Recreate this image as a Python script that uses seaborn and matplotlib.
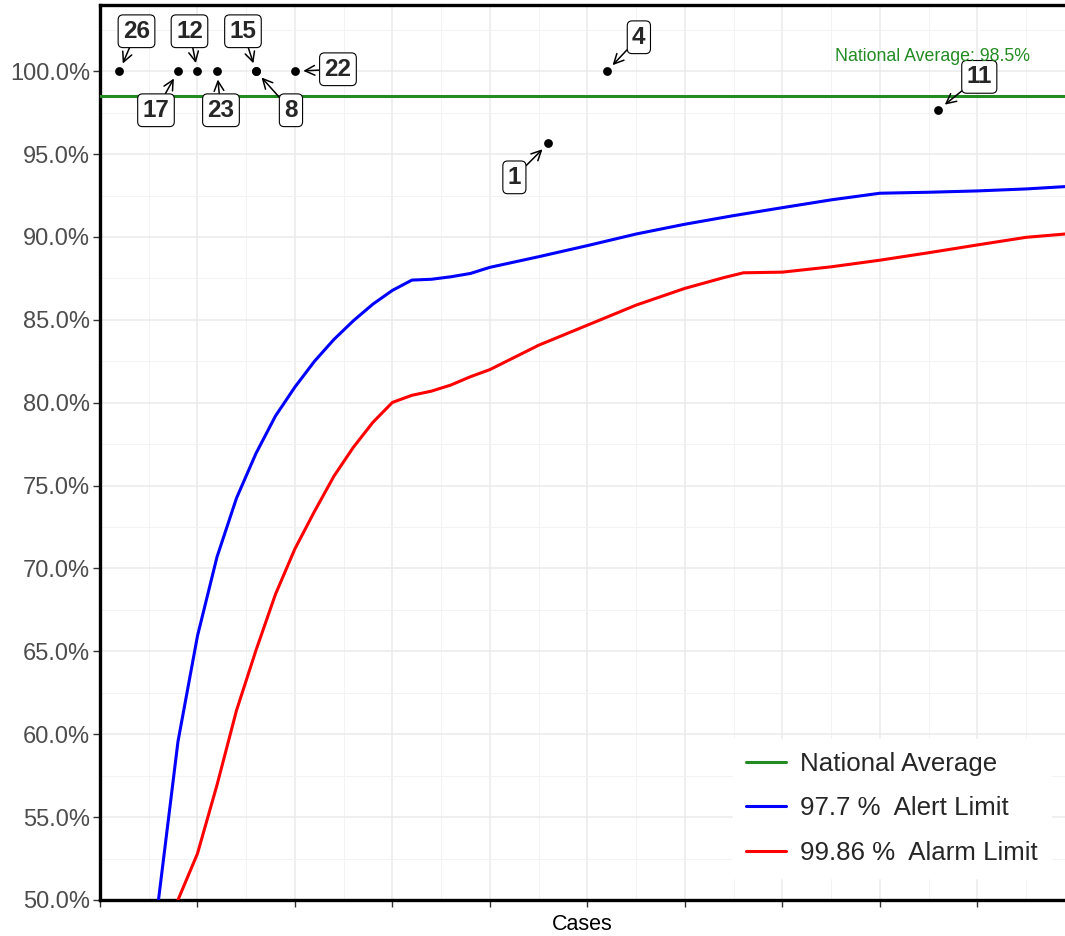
import numpy as np
import pandas as pd
import seaborn as sns
import matplotlib.pyplot as plt
from matplotlib.ticker import MultipleLocator, PercentFormatter

# hospital points
hosp_labels = ["26", "17", "12", "23", "15", "8", "22", "1", "4", "11"]
hosp_cases = [2, 8, 10, 12, 16, 16, 20, 46, 52, 86]
hosp_pct = [100.0, 100.0, 100.0, 100.0, 100.0, 100.0, 100.0, 95.65, 100.0, 97.67]

national_avg = 98.5

# funnel limits
alert_cases = [6, 8, 10, 12, 14, 16, 18, 20, 22, 24, 26, 28, 30, 32, 34, 36, 38,
               40, 45, 50, 55, 60, 65, 70, 75, 80, 85, 90, 95, 99]
alert_pct = [50.0, 59.56, 65.93, 70.69, 74.24, 76.94, 79.2, 80.95, 82.5, 83.82,
             84.95, 85.95, 86.78, 87.4, 87.45, 87.6, 87.8, 88.17, 88.81, 89.48,
             90.18, 90.77, 91.29, 91.77, 92.24, 92.64, 92.7, 92.78, 92.9, 93.04]

alarm_cases = [8, 10, 12, 14, 16, 18, 20, 22, 24, 26, 28, 30, 32, 34, 36, 38,
               40, 45, 50, 55, 60, 64, 66, 70, 75, 80, 85, 90, 95, 99]
alarm_pct = [50.0, 52.8, 56.93, 61.43, 65.06, 68.44, 71.19, 73.44, 75.57, 77.32,
             78.82, 80.02, 80.45, 80.7, 81.07, 81.57, 82.0, 83.47, 84.68, 85.89,
             86.9, 87.55, 87.84, 87.88, 88.2, 88.6, 89.05, 89.52, 89.98, 90.18]

# label offsets in pixels (text box relative to point)
label_offsets = [(17, 40), (-22, -39), (-8, 40), (4, -39), (-13, 40), (35, -39),
                 (43, 2), (-34, -34), (32, 34), (41, 33)]

sns.set_theme(style="whitegrid")
plt.rcParams['font.family'] = ['Liberation Sans', 'DejaVu Sans']

fig = plt.figure(figsize=(10.65, 9.36), dpi=100)
ax = fig.add_axes([0.0939, 0.0385, 0.9061, 0.9562])

ax.axhline(national_avg, color="#228B22", lw=2.2, label="National Average", zorder=3)
sns.lineplot(x=alert_cases, y=alert_pct, color="blue", lw=2.2, ax=ax,
             label="97.7 %  Alert Limit", zorder=3)
sns.lineplot(x=alarm_cases, y=alarm_pct, color="red", lw=2.2, ax=ax,
             label="99.86 %  Alarm Limit", zorder=3)
sns.scatterplot(x=hosp_cases, y=hosp_pct, color="black", s=40, linewidth=0, ax=ax, zorder=5)

for lab, x, y, off in zip(hosp_labels, hosp_cases, hosp_pct, label_offsets):
    ax.annotate(lab, xy=(x, y), xytext=off, textcoords="offset pixels",
                ha="center", va="center", fontsize=17.5, fontweight="bold",
                bbox=dict(boxstyle="round,pad=0.2,rounding_size=0.2", fc="white", ec="black", lw=0.8),
                arrowprops=dict(arrowstyle="->", color="black", lw=1.1, shrinkA=0, shrinkB=6),
                zorder=6)

ax.text(85.4, 100.9, f"National Average: {national_avg}%", color="#228B22",
        fontsize=12.8, ha="center", va="center", zorder=7)

ax.set_xlim(0, 99)
ax.set_ylim(50, 104)
ax.xaxis.set_major_locator(MultipleLocator(10))
ax.xaxis.set_minor_locator(MultipleLocator(5))
ax.yaxis.set_major_locator(MultipleLocator(5))
ax.yaxis.set_minor_locator(MultipleLocator(2.5))
ax.yaxis.set_major_formatter(PercentFormatter(decimals=1))
ax.grid(which="major", color="#ebebeb", lw=1.1)
ax.grid(which="minor", color="#f3f3f3", lw=0.7)
ax.set_axisbelow(True)

ax.tick_params(axis="x", which="major", labelbottom=False, length=5, width=1,
               color="#333333", bottom=True)
ax.tick_params(axis="y", which="major", labelsize=17, labelcolor="#4d4d4d",
               length=5, width=1, color="#333333", left=True, pad=2)
ax.tick_params(which="minor", length=0)

for side in ["left", "bottom", "top"]:
    ax.spines[side].set_color("black")
    ax.spines[side].set_linewidth(2.4)
ax.spines["right"].set_visible(False)

ax.set_xlabel("Cases", fontsize=15.5, color="black", labelpad=5)
ax.set_ylabel("")

leg = ax.legend(loc="lower right", bbox_to_anchor=(1051 / 1065, 1 - 878 / 936),
                bbox_transform=fig.transFigure, fontsize=18.6, frameon=True,
                facecolor="white", edgecolor="white", framealpha=1,
                handlelength=1.55, handletextpad=0.54, labelspacing=0.8,
                borderpad=0.5, borderaxespad=0, fancybox=False)
for line in leg.get_lines():
    line.set_linewidth(2.2)

fig.savefig("out.png", dpi=100)
